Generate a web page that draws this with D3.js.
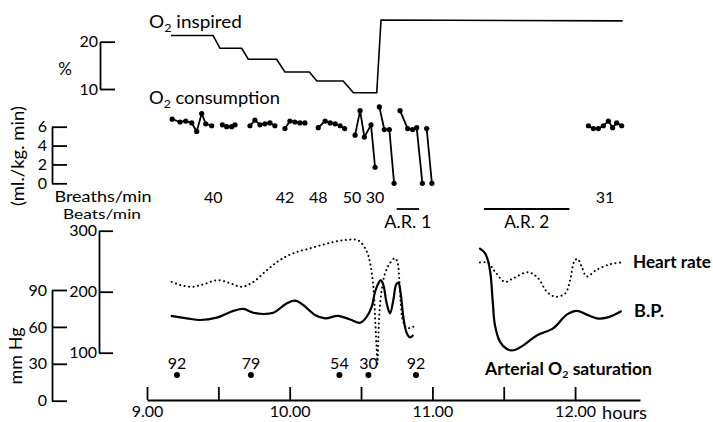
<!DOCTYPE html>
<html><head><meta charset="utf-8">
<script src="https://cdn.jsdelivr.net/npm/d3@7/dist/d3.min.js"></script>
<style>
body{margin:0;background:#fff}
text{font-family:Lato,"Open Sans",sans-serif;fill:#000}
</style>
</head><body>
<svg id="chart" width="713" height="422"></svg>
<script>
// ---- DATA (time = minutes after 9.00) ----
const hourTicks = [0, 30, 60, 90, 120, 150, 180];
const hourLabels = ["9.00", "", "10.00", "", "11.00", "", "12.00"];

const o2InspTime = [10.1, 27.8, 30.7, 39.8, 42.6, 54.5, 58.0, 68.3, 71.4, 82.5, 86.8, 96.6, 98.4, 200];
const o2InspPct  = [21.3, 21.3, 18.6, 18.6, 16.3, 16.3, 13.6, 13.6, 11.7, 11.7, 9.2, 9.2, 24.6, 24.4];
const o2InspTicks = [10, 20];

const o2ConsTime = [
  [10.6, 13.9, 16.3, 18.8, 20.9, 23.0, 24.7, 27.2],
  [31.7, 33.5, 35.6, 37.0],
  [43.3, 45.4, 47.5, 49.6, 51.7, 53.8],
  [58.0, 60.1, 62.2, 64.3, 66.4],
  [72.0, 74.9, 77.0, 79.1, 81.2, 83.1],
  [87.5, 89.6, 91.4, 94.2, 95.9],
  [97.7, 99.8, 101.9, 103.9],
  [106.4, 109.6, 111.7, 113.4, 115.8],
  [117.6, 119.8],
  [185.6, 187.7, 189.8, 191.9, 194.0, 195.8, 197.5, 199.6]
];
const o2ConsValue = [
  [6.8, 6.5, 6.6, 6.4, 5.5, 7.4, 6.3, 6.1],
  [6.2, 6.0, 6.0, 6.2],
  [6.1, 6.7, 6.2, 6.3, 6.4, 6.1],
  [5.8, 6.6, 6.5, 6.4, 6.4],
  [5.9, 6.6, 6.4, 6.3, 6.1, 5.8],
  [5.1, 7.7, 4.9, 6.2, 1.7],
  [8.1, 5.7, 5.7, 0],
  [7.7, 5.8, 5.7, 5.9, 0],
  [5.8, 0],
  [6.1, 5.8, 5.8, 6.1, 6.6, 5.9, 6.4, 6.1]
];
const o2ConsTicks = [0, 2, 4, 6];

const breathTime  = [27.9, 58.0, 72.0, 86.2, 95.9, 192.6];
const breathLabel = ["40", "42", "48", "50", "30", "31"];

const arTime  = [[105.0, 114.4], [141.7, 177.6]];
const arLabel = ["A.R. 1", "A.R. 2"];

const hrTicks = [100, 200, 300];
const hrTime1 = [10.4, 13.9, 18.8, 23.7, 29.7, 34.9, 39.8, 44.7, 50.3, 55.9, 61.5, 68.5, 76.9, 84.0, 88.9, 92.4, 93.8, 94.9, 95.5, 95.9, 96.3, 96.6, 96.9,
                 97.3, 97.7, 98.7, 100.1, 102.2, 104.3, 105.3, 106.1, 106.7, 107.5, 109.2, 111.3, 112.7];
const hrRate1 = [216, 211, 208, 212, 219, 214, 208, 216, 235, 252, 263, 271, 280, 285, 284, 266, 247, 219, 192, 159, 126, 104, 82,
                 126, 165, 203, 230, 247, 255, 249, 219, 181, 154, 140, 142, 143];
const hrTime2 = [140.0, 143.5, 146.3, 150.5, 154.0, 160.3, 164.5, 168.1, 171.6, 175.8, 177.9, 179.6, 181.0, 182.8, 184.9, 189.1, 194.7, 199.6];
const hrRate2 = [248, 247, 233, 216, 222, 232, 222, 200, 192, 197, 219, 249, 254, 241, 225, 236, 245, 248];

const mmTicks = [0, 30, 60, 90];
const bpTime1 = [10.0, 16.7, 22.3, 29.3, 36.3, 40.5, 44.7, 48.9, 53.1, 58.7, 62.2, 65.7, 70.6, 74.9, 80.4, 85.4, 89.6, 92.4, 94.5, 95.9,
                 97.3, 98.3, 99.4, 100.8, 102.2, 103.6, 104.7, 105.7, 106.7, 107.8, 109.2, 110.6, 112.0];
const bpMm1   = [69, 67, 65.6, 67.5, 73, 74.6, 71.5, 70.5, 71.5, 79, 81.3, 77.8, 69.7, 67, 69, 66, 63.4, 68.3, 76.4, 88.6,
                 95.4, 98, 94, 79, 71, 82, 94, 96, 87, 68, 55, 51.5, 53.4];
const bpTime2 = [139.7, 142.1, 143.5, 144.5, 145.4, 146.3, 148.4, 151.3, 154.0, 158.2, 163.9, 170.9, 176.5, 180.7, 184.9, 189.1, 193.3, 199.6];
const bpMm2   = [124, 120, 113, 102, 80, 61.5, 48, 42, 41, 45, 53, 59, 70, 73, 70, 67, 67.5, 73];

const satTime  = [12.6, 43.7, 80.9, 93.1, 113.1];
const satValue = [92, 79, 54, 30, 92];

// ---- SCALES ----
const svg = d3.select("#chart");
const x = d3.scaleLinear().domain([0, 207.3]).range([147, 640]);
const yInsp = d3.scaleLinear().domain([10, 20]).range([89, 41.7]);
const yCons = d3.scaleLinear().domain([0, 6]).range([183.3, 126.7]);
const yHr = d3.scaleLinear().domain([100, 300]).range([352.7, 230.7]);
const yMm = d3.scaleLinear().domain([0, 90]).range([400.7, 290]);

const FS = 16;

// word label; width = target rendered width (Gill-Sans-like wide letters)
function word(parts, xPos, yPos, opts = {}) {
  const t = svg.append("text").attr("x", xPos).attr("y", yPos)
    .style("font-size", (opts.size || 16.5) + "px")
    .attr("text-anchor", opts.anchor || "start");
  if (opts.bold) t.style("font-weight", "bold");
  if (opts.transform) t.attr("transform", opts.transform);
  parts.forEach(p => {
    if (p.sub) {
      t.append("tspan").attr("dy", p.shift).style("font-size", p.size + "px").text(p.sub);
    } else {
      const ts = t.append("tspan").text(p.text);
      if (p.back) ts.attr("dy", -p.back);
    }
  });
  if (opts.width) t.attr("textLength", opts.width).attr("lengthAdjust", "spacingAndGlyphs");
  return t;
}

function leftBracket(scale, ticks, xPos, tickLen, labelGap) {
  const g = svg.append("g").attr("transform", `translate(${xPos},0)`)
    .call(d3.axisRight(scale).tickValues(ticks).tickSizeInner(tickLen).tickSizeOuter(0).tickFormat(d3.format("d")));
  g.select(".domain").attr("stroke", "#000").attr("stroke-width", 1.8);
  g.selectAll(".tick line").attr("stroke", "#000").attr("stroke-width", 1.8);
  g.selectAll(".tick text").attr("x", -labelGap).attr("text-anchor", "end")
    .style("font-family", "Lato, sans-serif").style("font-size", FS + "px").attr("fill", "#000");
  return g;
}

// ---- O2 inspired ----
leftBracket(yInsp, o2InspTicks, 100, 15, 2);
word([{text: "%"}], 65, 75, {anchor: "middle", size: 17});
word([{text: "O"}, {sub: "2", shift: 4, size: 11}, {text: " inspired", back: 4}], 149, 28, {width: 93});

svg.append("path")
  .datum(o2InspTime.map((t, i) => [t, o2InspPct[i]]))
  .attr("fill", "none").attr("stroke", "#000").attr("stroke-width", 1.6)
  .attr("d", d3.line().x(d => x(d[0])).y(d => yInsp(d[1])));

// ---- O2 consumption ----
leftBracket(yCons, o2ConsTicks, 52, 15, 5);
word([{text: "O"}, {sub: "2", shift: 4, size: 11}, {text: " consumption", back: 4}], 149, 104, {width: 131});
word([{text: "(ml./kg. min)"}], 0, 0, {anchor: "middle", transform: "translate(24,156) rotate(-90)", width: 100});

o2ConsTime.forEach((ts, gi) => {
  const pts = ts.map((t, i) => [t, o2ConsValue[gi][i]]);
  svg.append("path").datum(pts).attr("fill", "none").attr("stroke", "#000").attr("stroke-width", 1.8)
    .attr("d", d3.line().x(d => x(d[0])).y(d => yCons(d[1])));
  svg.selectAll(null).data(pts).enter().append("circle")
    .attr("cx", d => x(d[0])).attr("cy", d => yCons(d[1])).attr("r", 2.6).attr("fill", "#000");
});

// ---- Breaths / beats ----
word([{text: "Breaths/min"}], 103, 202, {anchor: "middle", width: 97, size: 14.5});
word([{text: "Beats/min"}], 102, 218.5, {anchor: "middle", width: 78, size: 13.5});
svg.selectAll(null).data(breathTime).enter().append("text")
  .attr("x", d => x(d)).attr("y", 203).attr("text-anchor", "middle").style("font-size", FS + "px")
  .text((d, i) => breathLabel[i]);

const arWidth = [47, 45];
arTime.forEach((r, i) => {
  svg.append("line").attr("x1", x(r[0])).attr("x2", x(r[1])).attr("y1", 209).attr("y2", 209)
    .attr("stroke", "#000").attr("stroke-width", 1.8);
  word([{text: arLabel[i]}], x((r[0] + r[1]) / 2), 228, {anchor: "middle", width: arWidth[i]});
});

// ---- Heart rate / BP axes ----
leftBracket(yHr, hrTicks, 99, 14, 2);
leftBracket(yMm, mmTicks, 52, 15, 5);
word([{text: "mm Hg"}], 0, 0, {anchor: "middle", transform: "translate(22,356) rotate(-90)", width: 57});

const curve = d3.curveCatmullRom.alpha(0.5);
[[hrTime1, hrRate1], [hrTime2, hrRate2]].forEach(([ts, vs]) => {
  svg.append("path").datum(ts.map((t, i) => [t, vs[i]]))
    .attr("fill", "none").attr("stroke", "#000").attr("stroke-width", 2)
    .attr("stroke-linecap", "round").attr("stroke-dasharray", "0.1,4.4")
    .attr("d", d3.line().curve(curve).x(d => x(d[0])).y(d => yHr(d[1])));
});
[[bpTime1, bpMm1], [bpTime2, bpMm2]].forEach(([ts, vs]) => {
  svg.append("path").datum(ts.map((t, i) => [t, vs[i]]))
    .attr("fill", "none").attr("stroke", "#000").attr("stroke-width", 2.2)
    .attr("d", d3.line().curve(curve).x(d => x(d[0])).y(d => yMm(d[1])));
});
word([{text: "Heart rate"}], 633, 268, {bold: true, width: 78});
word([{text: "B.P."}], 634, 317, {bold: true, width: 30});

// ---- Arterial O2 saturation ----
svg.selectAll(null).data(satTime).enter().append("circle")
  .attr("cx", d => x(d)).attr("cy", 375).attr("r", 3).attr("fill", "#000");
svg.selectAll(null).data(satTime).enter().append("text")
  .attr("x", d => x(d)).attr("y", 369).attr("text-anchor", "middle").style("font-size", FS + "px")
  .text((d, i) => satValue[i]);
word([{text: "Arterial O"}, {sub: "2", shift: 3, size: 10}, {text: " saturation", back: 3}], 485, 375, {bold: true, width: 167});

// ---- Time axis ----
const xa = svg.append("g").attr("transform", "translate(0,400)")
  .call(d3.axisBottom(x).tickValues(hourTicks).tickSizeInner(-13).tickSizeOuter(0).tickPadding(6)
    .tickFormat((d, i) => hourLabels[i]));
xa.select(".domain").attr("stroke", "#000").attr("stroke-width", 1.8);
xa.selectAll(".tick line").attr("stroke", "#000").attr("stroke-width", 1.8);
xa.selectAll(".tick text").style("font-family", "Lato, sans-serif").style("font-size", FS + "px").attr("fill", "#000");
word([{text: "hours"}], 602, 419, {width: 45});
</script>
</body></html>
